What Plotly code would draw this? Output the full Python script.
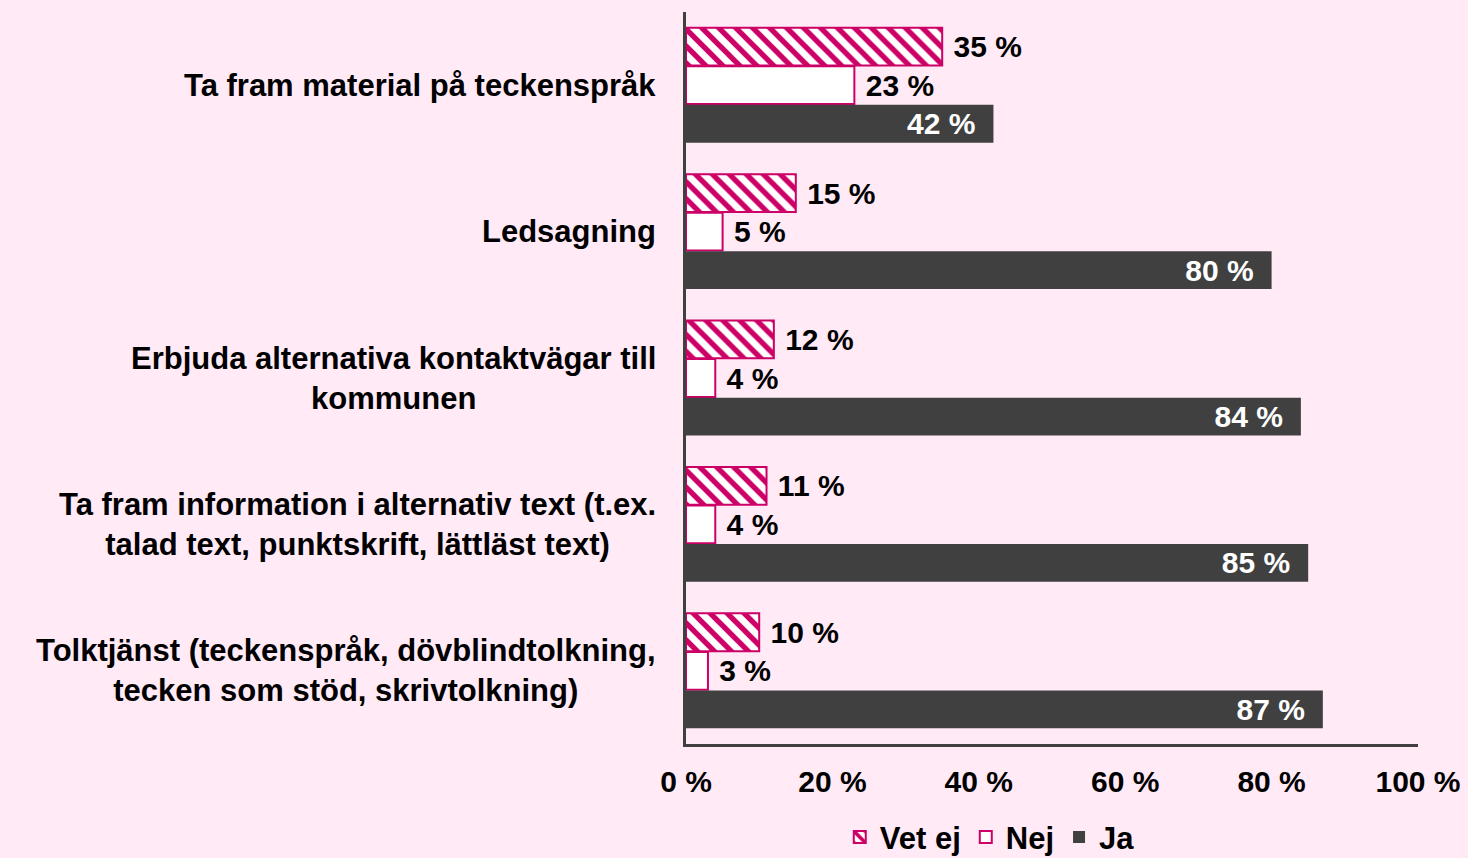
import plotly.graph_objects as go

categories = [
    "Ta fram material på teckenspråk",
    "Ledsagning",
    "Erbjuda alternativa kontaktvägar till<br>kommunen",
    "Ta fram information i alternativ text (t.ex.<br>talad text, punktskrift, lättläst text)",
    "Tolktjänst (teckenspråk, dövblindtolkning,<br>tecken som stöd, skrivtolkning)",
]
vet_ej = [35, 15, 12, 11, 10]
nej = [23, 5, 4, 4, 3]
ja = [42, 80, 84, 85, 87]
tick_vals = [0, 20, 40, 60, 80, 100]
tick_text = ["0 %", "20 %", "40 %", "60 %", "80 %", "100 %"]

MAGENTA = "#CC0066"
DARK = "#404040"
BG = "#FFEAF6"
FONT = "Liberation Sans, Arial, sans-serif"
NB = "\u00a0"
EN = "\u2002"

fig = go.Figure()

fig.add_trace(go.Bar(
    name="Vet ej",
    y=categories,
    x=vet_ej,
    orientation="h",
    marker=dict(
        color="white",
        line=dict(color=MAGENTA, width=2),
        pattern=dict(shape="\\", fgcolor=MAGENTA, bgcolor="white",
                     size=12, solidity=0.45, fillmode="replace"),
    ),
    text=[NB + f"{v} %" for v in vet_ej],
    textposition="outside",
    textfont=dict(color="black"),
))

fig.add_trace(go.Bar(
    name="Nej",
    y=categories,
    x=nej,
    orientation="h",
    marker=dict(color="white", line=dict(color=MAGENTA, width=2)),
    text=[NB + f"{v} %" for v in nej],
    textposition="outside",
    textfont=dict(color="black"),
))

fig.add_trace(go.Bar(
    name="Ja",
    y=categories,
    x=ja,
    orientation="h",
    marker=dict(color=DARK, line=dict(width=0)),
    text=[f"{v} %" + EN for v in ja],
    textposition="inside",
    insidetextanchor="end",
    textfont=dict(color="white"),
))

fig.update_traces(
    constraintext="none",
    cliponaxis=False,
)

# category labels: centred block, right-aligned to the axis
for cat in categories:
    fig.add_annotation(
        x=0, xref="paper", xanchor="right", xshift=-28,
        y=cat, yref="y",
        text=cat, showarrow=False, align="center",
        font=dict(family=FONT, size=31, color="black", weight="bold"),
    )

fig.update_layout(
    width=1468,
    height=858,
    barmode="group",
    bargap=0.21,
    bargroupgap=0.02,
    paper_bgcolor=BG,
    plot_bgcolor=BG,
    font=dict(family=FONT, size=30, color="black", weight="bold"),
    margin=dict(l=686, r=50, t=12, b=114, autoexpand=False),
    xaxis=dict(
        range=[0, 100],
        tickvals=tick_vals,
        ticktext=tick_text,
        showgrid=False,
        zeroline=False,
        showline=True,
        linecolor=DARK,
        linewidth=3,
        ticks="",
        ticklabelstandoff=9,
        automargin=False,
    ),
    yaxis=dict(
        autorange="reversed",
        showticklabels=False,
        showgrid=False,
        zeroline=False,
        showline=True,
        linecolor=DARK,
        linewidth=3,
        ticks="",
        automargin=False,
    ),
    showlegend=True,
    legend=dict(
        orientation="h",
        x=0.415,
        xanchor="center",
        yref="container",
        y=0.024,
        yanchor="middle",
        font=dict(size=31),
        itemwidth=30,
        bgcolor="rgba(0,0,0,0)",
    ),
)

fig.write_html(
    "out.html",
    config={"displayModeBar": False},
    post_script="document.body.style.margin='0';",
)
